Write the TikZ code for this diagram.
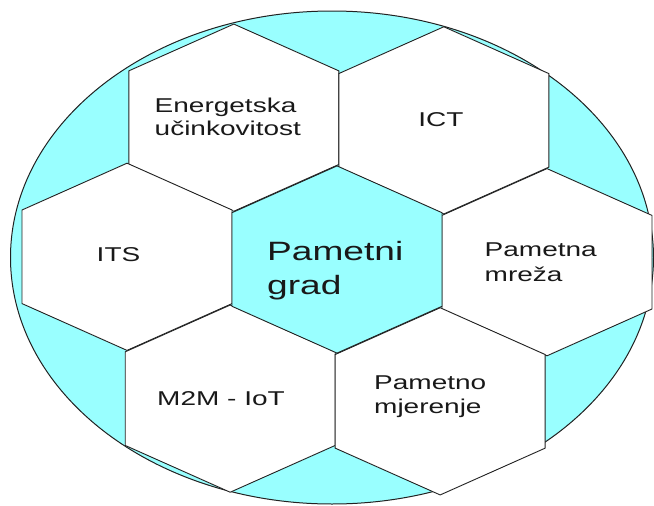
\documentclass[tikz,border=0pt]{standalone}
\usepackage{fontspec}
\setmainfont{Liberation Sans}[FakeStretch=1.4]
\definecolor{cityblue}{HTML}{99FFFF}
\definecolor{edgegray}{HTML}{222222}
\tikzset{
  hexcell/.pic={\path[pic actions] (0,-93.6) -- (105,-46.8) -- (105,46.8) -- (0,93.6) -- (-105,46.8) -- (-105,-46.8) -- cycle;},
  cell/.style={draw=edgegray, line width=0.9pt, fill=white},
  centercell/.style={draw=edgegray, line width=0.9pt, fill=cityblue},
  smalltxt/.style={inner sep=0pt, text=black!90, font=\fontsize{20}{22.5}\selectfont},
  bigtxt/.style={inner sep=0pt, text=black!90, align=left, font=\fontsize{26.5}{33.3}\selectfont},
}
\begin{document}
\begin{tikzpicture}[x=1pt,y=-1pt]
\useasboundingbox (0,0) rectangle (654,506);
\draw[draw=edgegray, line width=1pt, fill=cityblue] (332,257.5) ellipse [x radius=321.5, y radius=246.5];
\begin{scope}[shift={(337,259.5)}, rotate=-0.74]
  \pic[cell] (hE) at (-105,-140.5) {hexcell};
  \pic[cell] (hICT) at (105,-140.5) {hexcell};
  \pic[cell] (hITS) at (-210,0) {hexcell};
  \pic[cell] (hPM) at (210,0) {hexcell};
  \pic[cell] (hM2M) at (-105,140.5) {hexcell};
  \pic[cell] (hPMj) at (105,140.5) {hexcell};
  \pic[centercell] (hC) at (0,0) {hexcell};
\end{scope}
\node[smalltxt, align=left, anchor=base west] (tE) at (154.5,135) {Energetska\\učinkovitost};
\node[smalltxt, anchor=base] (tICT) at (441,126) {ICT};
\node[smalltxt, anchor=base] (tITS) at (118.5,261.5) {ITS};
\node[bigtxt, anchor=base west] (tC) at (267,294) {Pametni\\grad};
\node[smalltxt, align=left, anchor=base west, font=\fontsize{20}{25}\selectfont] (tPM) at (484.5,281.7) {Pametna\\mreža};
\node[smalltxt, anchor=base] (tM2M) at (221,405) {M2M - IoT};
\node[smalltxt, align=left, anchor=base west, font=\fontsize{20}{24}\selectfont] (tPMj) at (374,413.3) {Pametno\\mjerenje};
\end{tikzpicture}
\end{document}
